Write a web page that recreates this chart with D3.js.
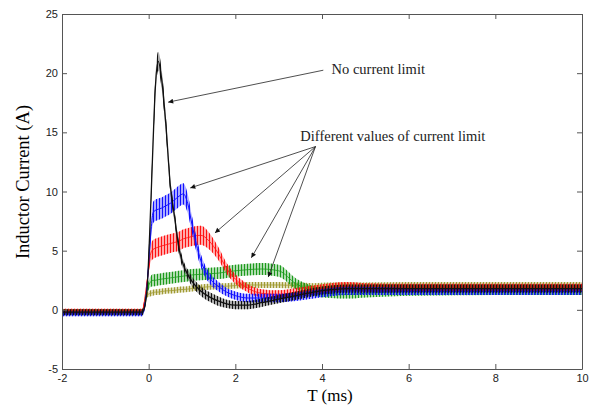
<!DOCTYPE html>
<html>
<head>
<meta charset="utf-8">
<script src="https://cdn.jsdelivr.net/npm/d3@7"></script>
<style>
body { margin: 0; background: #fff; }
</style>
</head>
<body>
<svg id="chart" width="592" height="405"></svg>
<script>
// time axis (ms), shared by every trace
var tms = [-2, -0.15, -0.05, 0.05, 0.1, 0.15, 0.22, 0.3, 0.4, 0.5, 0.6, 0.7, 0.8, 0.9, 1.0,
           1.2, 1.4, 1.6, 1.8, 2.0, 2.3, 2.6, 3.0, 3.4, 3.8, 4.2, 4.6, 5.0, 6, 8, 10];

// inductor current (A), middle of the ripple band
var iNoLimit = [-0.2, -0.2, 1.2, 9, 14, 18.5, 21, 19.5, 15.5, 10.5, 7.8, 5.2, 3.8, 3.0, 2.4,
                1.6, 1.1, 0.75, 0.5, 0.4, 0.4, 0.6, 0.9, 1.2, 1.5, 1.7, 1.8, 1.8, 1.8, 1.8, 1.8];
var iLimit1 = [-0.35, -0.35, 1.5, 6.5, 8.2, 8.4, 8.5, 8.6, 8.8, 9.0, 9.3, 9.6, 9.8, 9.0, 7.2,
               4.2, 2.7, 2.0, 1.5, 1.2, 1.0, 1.0, 1.0, 1.1, 1.3, 1.5, 1.6, 1.6, 1.55, 1.55, 1.55];
var iLimit2 = [-0.1, -0.1, 2.0, 4.8, 5.1, 5.2, 5.3, 5.4, 5.5, 5.6, 5.7, 5.8, 6.0, 6.1, 6.2,
               6.3, 5.8, 4.8, 3.5, 2.6, 1.8, 1.4, 1.3, 1.5, 1.7, 1.9, 2.0, 1.9, 1.85, 1.85, 1.85];
var iLimit3 = [-0.2, -0.2, 1.5, 2.4, 2.5, 2.5, 2.55, 2.6, 2.65, 2.7, 2.75, 2.8, 2.85, 2.9, 2.95,
               3.0, 3.05, 3.1, 3.2, 3.3, 3.4, 3.45, 3.3, 2.2, 1.6, 1.35, 1.3, 1.4, 1.55, 1.6, 1.6];
var iLimit4 = [-0.15, -0.15, 1.2, 1.4, 1.45, 1.5, 1.5, 1.55, 1.6, 1.62, 1.65, 1.7, 1.72, 1.75, 1.8,
               1.9, 1.95, 2.0, 2.0, 2.05, 2.1, 2.1, 2.1, 2.05, 2.0, 2.0, 2.0, 2.0, 2.05, 2.05, 2.05];

// half height of the switching ripple (A)
var rNoLimit = [0.25, 0.25, 0.3, 0.6, 0.7, 0.8, 0.8, 0.8, 0.7, 0.6, 0.5, 0.5, 0.4, 0.4, 0.4,
                0.4, 0.4, 0.4, 0.35, 0.35, 0.35, 0.35, 0.35, 0.35, 0.35, 0.35, 0.35, 0.35, 0.35, 0.35, 0.35];
var rLimit1 = [0.2, 0.2, 0.3, 0.7, 0.9, 0.9, 0.9, 0.9, 0.9, 0.9, 0.9, 0.9, 0.9, 0.8, 0.7,
               0.55, 0.45, 0.4, 0.35, 0.35, 0.35, 0.35, 0.35, 0.35, 0.35, 0.35, 0.35, 0.35, 0.3, 0.3, 0.3];
var rLimit2 = [0.2, 0.2, 0.3, 0.7, 0.8, 0.8, 0.8, 0.8, 0.8, 0.8, 0.8, 0.8, 0.8, 0.8, 0.8,
               0.8, 0.7, 0.55, 0.45, 0.4, 0.35, 0.35, 0.35, 0.35, 0.35, 0.35, 0.35, 0.35, 0.35, 0.35, 0.35];
var rLimit3 = [0.2, 0.2, 0.3, 0.45, 0.5, 0.5, 0.5, 0.5, 0.5, 0.5, 0.5, 0.5, 0.5, 0.5, 0.5,
               0.5, 0.5, 0.5, 0.5, 0.5, 0.5, 0.5, 0.5, 0.45, 0.4, 0.35, 0.35, 0.35, 0.35, 0.35, 0.35];
var rLimit4 = [0.2, 0.2, 0.2, 0.25, 0.25, 0.25, 0.25, 0.25, 0.25, 0.25, 0.25, 0.25, 0.25, 0.25, 0.25,
               0.25, 0.25, 0.25, 0.25, 0.25, 0.25, 0.25, 0.25, 0.25, 0.25, 0.3, 0.3, 0.3, 0.3, 0.3, 0.3];

var xTicks = [-2, 0, 2, 4, 6, 8, 10];
var yTicks = [-5, 0, 5, 10, 15, 20, 25];

// drawn bottom to top
var traces = [
    {id: "l4", col: "#a09a32", mid: iLimit4, rip: rLimit4, w: 0.8},
    {id: "l3", col: "#1c9a1c", mid: iLimit3, rip: rLimit3, w: 0.8},
    {id: "l2", col: "#ff1010", mid: iLimit2, rip: rLimit2, w: 0.8},
    {id: "l1", col: "#1010ff", mid: iLimit1, rip: rLimit1, w: 1},
    {id: "nl", col: "#111111", mid: iNoLimit, rip: rNoLimit, w: 1.3}
];

// arrow annotations, in data units
var noteNoLimit = {text: "No current limit", x: 4.22, y: 19.9,
                   from: [4.03, 20.25], to: [[0.45, 17.55]]};
var noteLimits = {text: "Different values of current limit", x: 3.5, y: 14.25,
                  from: [3.85, 13.8], to: [[0.96, 10.3], [1.53, 6.5], [2.37, 4.4], [2.76, 2.77]]};

var svg = d3.select("#chart");
var L = 62, R = 582, T = 14, B = 369;

var x = d3.scaleLinear().domain([-2, 10]).range([L, R]);
var y = d3.scaleLinear().domain([-5, 25]).range([B, T]);

var defs = svg.append("defs");
defs.append("clipPath").attr("id", "plotclip")
    .append("rect").attr("x", L).attr("y", T).attr("width", R - L).attr("height", B - T);

// vertical hatch = the dense ripple of each trace
traces.forEach(function (s, k) {
    var p = defs.append("pattern").attr("id", "rip_" + s.id)
        .attr("patternUnits", "userSpaceOnUse")
        .attr("width", 3).attr("height", 8)
        .attr("patternTransform", "translate(" + (k % 3) + ",0)");
    p.append("rect").attr("width", 1).attr("height", 8).attr("fill", s.col);
});

var plot = svg.append("g").attr("clip-path", "url(#plotclip)");

traces.forEach(function (s) {
    var pts = tms.map(function (t, i) { return {t: t, m: s.mid[i], r: s.rip[i]}; });
    var band = d3.area()
        .x(function (d) { return x(d.t); })
        .y0(function (d) { return y(d.m - d.r); })
        .y1(function (d) { return y(d.m + d.r); })
        .curve(d3.curveMonotoneX);
    var mid = d3.line()
        .x(function (d) { return x(d.t); })
        .y(function (d) { return y(d.m); })
        .curve(d3.curveMonotoneX);
    plot.append("path").datum(pts).attr("d", band)
        .attr("fill", s.col).attr("fill-opacity", 0.35);
    plot.append("path").datum(pts).attr("d", band)
        .attr("fill", "url(#rip_" + s.id + ")");
    plot.append("path").datum(pts).attr("d", mid)
        .attr("fill", "none").attr("stroke", s.col).attr("stroke-width", s.w);
});

// axes, ticks pointing inward on all four sides
function plain(d) { return String(d); }
function styleAxis(g) {
    g.select(".domain").attr("stroke", "#555");
    g.selectAll(".tick line").attr("stroke", "#555");
    g.selectAll(".tick text").attr("fill", "#222")
        .style("font-family", "'Liberation Sans', Arial, sans-serif").style("font-size", "11px");
}
svg.append("g").attr("transform", "translate(0," + B + ")")
    .call(d3.axisBottom(x).tickValues(xTicks).tickFormat(plain).tickSizeInner(-5).tickSizeOuter(0).tickPadding(5))
    .call(styleAxis);
svg.append("g").attr("transform", "translate(0," + T + ")")
    .call(d3.axisTop(x).tickValues(xTicks).tickSizeInner(-5).tickSizeOuter(0).tickFormat(""))
    .call(styleAxis);
svg.append("g").attr("transform", "translate(" + L + ",0)")
    .call(d3.axisLeft(y).tickValues(yTicks).tickFormat(plain).tickSizeInner(-5).tickSizeOuter(0).tickPadding(4))
    .call(styleAxis);
svg.append("g").attr("transform", "translate(" + R + ",0)")
    .call(d3.axisRight(y).tickValues(yTicks).tickSizeInner(-5).tickSizeOuter(0).tickFormat(""))
    .call(styleAxis);

svg.append("text").attr("x", 330).attr("y", 401).attr("text-anchor", "middle")
    .style("font-family", "'Liberation Serif', 'Times New Roman', serif").style("font-size", "17px")
    .text("T (ms)");
svg.append("text").attr("transform", "translate(29," + 182 + ") rotate(-90)")
    .attr("text-anchor", "middle")
    .style("font-family", "'Liberation Serif', 'Times New Roman', serif").style("font-size", "18.5px")
    .text("Inductor Current (A)");

// annotations
defs.append("marker").attr("id", "head").attr("viewBox", "0 0 10 10")
    .attr("refX", 10).attr("refY", 5).attr("markerWidth", 7).attr("markerHeight", 5)
    .attr("orient", "auto").attr("markerUnits", "userSpaceOnUse")
    .append("path").attr("d", "M0,0L10,5L0,10z").attr("fill", "#111");

[noteNoLimit, noteLimits].forEach(function (n) {
    n.to.forEach(function (p) {
        svg.append("line")
            .attr("x1", x(n.from[0])).attr("y1", y(n.from[1]))
            .attr("x2", x(p[0])).attr("y2", y(p[1]))
            .attr("stroke", "#222").attr("stroke-width", 0.8)
            .attr("marker-end", "url(#head)");
    });
    svg.append("text").attr("x", x(n.x)).attr("y", y(n.y))
        .style("font-family", "'Liberation Serif', 'Times New Roman', serif").style("font-size", "14.5px")
        .attr("fill", "#222")
        .text(n.text);
});
</script>
</body>
</html>
